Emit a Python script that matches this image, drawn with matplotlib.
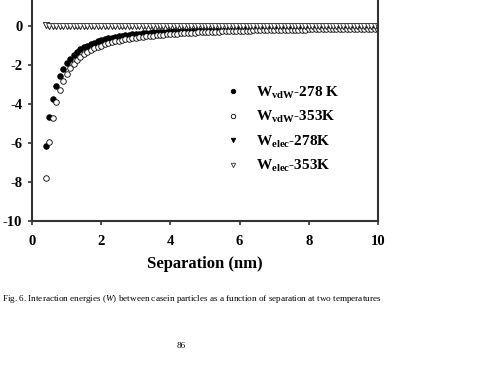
import numpy as np
import matplotlib
matplotlib.use('Agg')
import matplotlib.pyplot as plt

plt.rcParams['font.family'] = 'Liberation Serif'
plt.rcParams['mathtext.fontset'] = 'custom'
plt.rcParams['mathtext.rm'] = 'Liberation Serif:bold'
plt.rcParams['mathtext.bf'] = 'Liberation Serif:bold'
plt.rcParams['mathtext.it'] = 'Liberation Serif:italic'
plt.rcParams['axes.unicode_minus'] = False

# separation (nm), 0.4 ... 10.0 in steps of 0.1
sep = np.round(np.arange(4, 101) / 10.0, 1)

vdw_278 = [-6.15, -4.68, -3.74, -3.08, -2.58, -2.20, -1.91,
           -1.68, -1.49, -1.33, -1.20, -1.09, -1.00, -0.92, -0.85, -0.79, -0.73,
           -0.68, -0.64, -0.60, -0.56, -0.53, -0.50, -0.47, -0.45, -0.43, -0.41,
           -0.39, -0.37, -0.36, -0.34, -0.33, -0.32, -0.31, -0.30, -0.29, -0.28,
           -0.27, -0.26, -0.26, -0.25, -0.24, -0.24, -0.23, -0.22, -0.22, -0.21,
           -0.21, -0.20, -0.20, -0.19, -0.19, -0.19, -0.18, -0.18, -0.17, -0.17,
           -0.17, -0.16, -0.16, -0.16, -0.15, -0.15, -0.15, -0.15, -0.14, -0.14,
           -0.14, -0.14, -0.13, -0.13, -0.13, -0.13, -0.13, -0.12, -0.12, -0.12,
           -0.12, -0.12, -0.11, -0.11, -0.11, -0.11, -0.11, -0.11, -0.10, -0.10,
           -0.10, -0.10, -0.10, -0.10, -0.10, -0.09, -0.09, -0.09, -0.09, -0.09]

vdw_353 = [-7.81, -5.95, -4.73, -3.88, -3.28, -2.80, -2.46,
           -2.17, -1.94, -1.75, -1.59, -1.45, -1.34, -1.24, -1.15, -1.07, -1.00,
           -0.94, -0.89, -0.84, -0.79, -0.75, -0.72, -0.68, -0.65, -0.62, -0.60,
           -0.57, -0.55, -0.53, -0.51, -0.49, -0.47, -0.46, -0.44, -0.43, -0.41,
           -0.40, -0.39, -0.38, -0.37, -0.36, -0.35, -0.34, -0.33, -0.32, -0.31,
           -0.31, -0.30, -0.29, -0.29, -0.28, -0.27, -0.27, -0.26, -0.26, -0.25,
           -0.25, -0.24, -0.24, -0.23, -0.23, -0.22, -0.22, -0.21, -0.21, -0.21,
           -0.20, -0.20, -0.20, -0.19, -0.19, -0.19, -0.18, -0.18, -0.18, -0.17,
           -0.17, -0.17, -0.17, -0.16, -0.16, -0.16, -0.16, -0.15, -0.15, -0.15,
           -0.15, -0.15, -0.14, -0.14, -0.14, -0.14, -0.14, -0.13, -0.13, -0.13]

elec_278 = [0.03, 0.02, 0.01] + [0.0] * 94
elec_353 = [0.03, 0.02, 0.01] + [0.0] * 94

labels = [r'W$_{\mathbf{vdW}}$-278 K', r'W$_{\mathbf{vdW}}$-353K',
          r'W$_{\mathbf{elec}}$-278K', r'W$_{\mathbf{elec}}$-353K']

fig = plt.figure(figsize=(4.87, 3.79), dpi=100)
ax = fig.add_axes([32 / 487, 1 - 221 / 379, 346 / 487, 221 / 379])

ms = 4.0
ax.plot(sep, vdw_278, 'o', ms=ms, mfc='black', mec='black', mew=0.6, label=labels[0])
ax.plot(sep, vdw_353, 'o', ms=ms, mfc='white', mec='black', mew=0.6, label=labels[1])
ax.plot(sep, elec_278, 'v', ms=ms, mfc='black', mec='black', mew=0.6, label=labels[2])
ax.plot(sep, elec_353, 'v', ms=ms, mfc='white', mec='#333333', mew=0.6, label=labels[3])

ax.set_xlim(0, 10)
ax.set_ylim(-10, 26 / 19.5)
ax.set_xticks([0, 2, 4, 6, 8, 10])
ax.set_yticks([0, -2, -4, -6, -8, -10])

for s in ['left', 'bottom', 'right']:
    ax.spines[s].set_linewidth(1.5)
    ax.spines[s].set_color('#333333')
ax.spines['top'].set_visible(False)

ax.tick_params(axis='both', direction='out', length=3, width=1.2, color='#333333',
               labelsize=10.5)
ax.tick_params(axis='x', pad=7)
ax.tick_params(axis='y', pad=4)
for t in ax.get_xticklabels() + ax.get_yticklabels():
    t.set_fontweight('bold')

ax.set_xlabel('Separation (nm)', fontsize=12, fontweight='bold', labelpad=6)

leg = ax.legend(loc='upper left', bbox_to_anchor=(0.52, 0.68), frameon=False,
                prop={'size': 11, 'weight': 'bold'}, markerscale=0.8,
                handlelength=1.0, handletextpad=1.0, labelspacing=0.55)

fig.text(2 / 487, 1 - 299 / 379,
         r'Fig. 6. Interaction energies ($\mathit{W}$) between casein particles as a function of separation at two temperatures',
         fontsize=6.6, va='center', ha='left')
fig.text(181 / 487, 1 - 346 / 379, '86', fontsize=6.6, va='center', ha='center')

fig.savefig('out.png', dpi=100)
